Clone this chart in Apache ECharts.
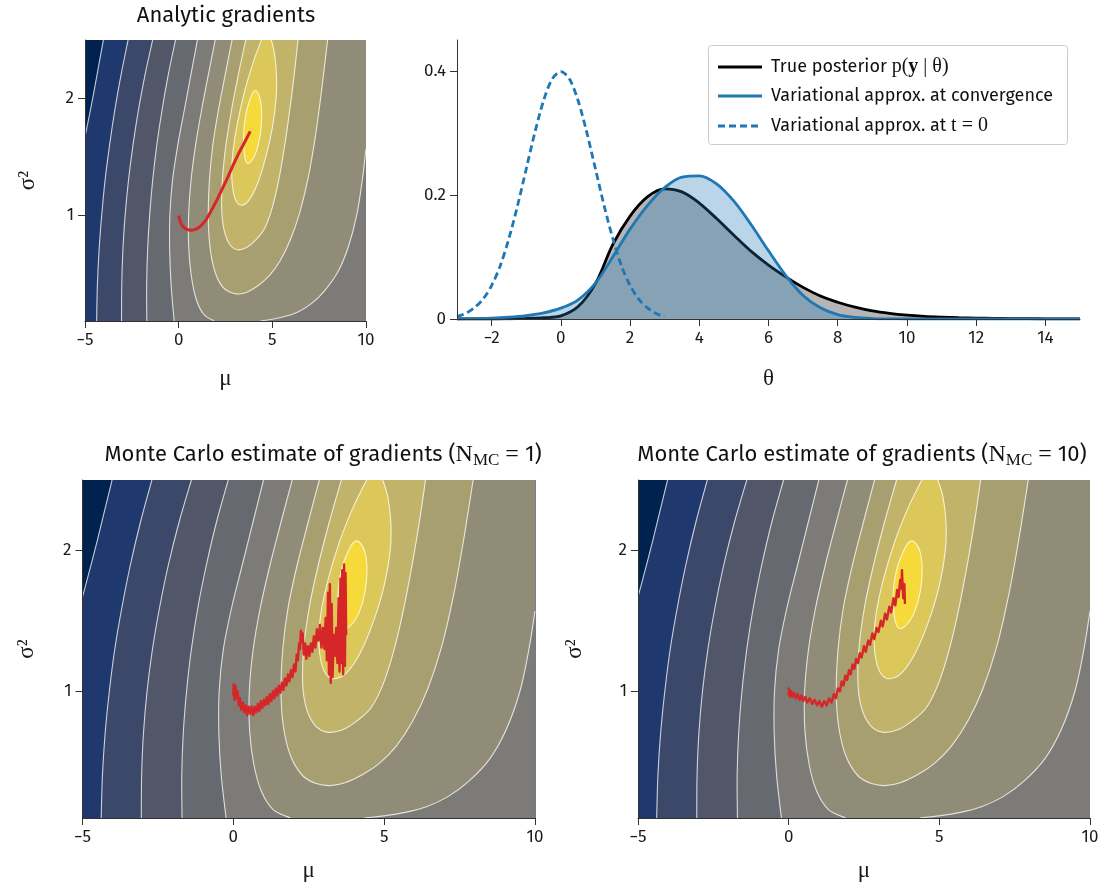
<!DOCTYPE html>
<html><head><meta charset="utf-8">
<script src="https://cdn.jsdelivr.net/npm/echarts@6/dist/echarts.min.js"></script>
<style>html,body{margin:0;padding:0;background:#fff}#c{width:1107px;height:886px}</style>
</head><body><div id="c"></div>
<script>
// ---------------- data ----------------
const muTicks = [-5, 0, 5, 10];
const s2Ticks = [1, 2];
const thetaTicks = [-2, 0, 2, 4, 6, 8, 10, 12, 14];
const densTicks = [0, 0.2, 0.4];

// contour lines of the objective in (mu, sigma^2)
const L1 = [[-4.02,2.5],[-4.27,2.28],[-4.51,2.07],[-4.75,1.87],[-5.0,1.67]];
const L2 = [[-2.70,2.5],[-3.08,2.2],[-3.41,1.9],[-3.69,1.6],[-3.93,1.3],[-4.11,1.0],[-4.25,0.7],[-4.34,0.4],[-4.38,0.1]];
const L3 = [[-1.39,2.5],[-1.80,2.2],[-2.15,1.9],[-2.44,1.6],[-2.68,1.3],[-2.86,1.0],[-2.98,0.7],[-3.04,0.4],[-3.05,0.1]];
const L4 = [[-0.17,2.5],[-0.56,2.2],[-0.89,1.9],[-1.17,1.6],[-1.39,1.3],[-1.55,1.0],[-1.66,0.7],[-1.71,0.4],[-1.70,0.1]];
const L5 = [[1.0,2.5],[0.65,2.2],[0.30,1.9],[-0.05,1.6],[-0.33,1.3],[-0.47,1.0],[-0.48,0.7],[-0.40,0.4],[-0.24,0.1]];
const L6a = [[1.95,2.5],[1.58,2.2],[1.22,1.9],[0.90,1.6],[0.66,1.3],[0.53,1.0],[0.54,0.72],[0.68,0.48],[0.93,0.29],[1.32,0.16],[1.89,0.1]];
const L6b = [[4.35,0.1],[5.0,0.115],[5.7,0.14],[6.4,0.18],[7.1,0.25],[7.8,0.36],[8.5,0.52],[9.05,0.73],[9.5,1.0],[9.8,1.3],[10.0,1.57]];
const L7 = [[2.85,2.5],[2.48,2.2],[2.12,1.9],[1.82,1.6],[1.64,1.3],[1.58,1.0],[1.66,0.75],[1.90,0.54],[2.30,0.40],[2.75,0.345],[3.2,0.33],[3.7,0.35],[4.3,0.41],[4.85,0.49],[5.4,0.61],[5.95,0.79],[6.45,1.02],[6.91,1.32],[7.3,1.68],[7.63,2.07],[7.95,2.5]];
const L8 = [[3.58,2.5],[3.18,2.2],[2.82,1.9],[2.52,1.6],[2.33,1.3],[2.30,1.05],[2.42,0.88],[2.70,0.76],[3.10,0.71],[3.60,0.725],[4.10,0.79],[4.59,0.89],[5.0,1.07],[5.36,1.32],[5.68,1.62],[5.97,1.95],[6.18,2.22],[6.37,2.5]];
const L9 = [[4.42,2.5],[4.0,2.32],[3.55,2.08],[3.15,1.8],[2.90,1.55],[2.83,1.36],[2.92,1.2],[3.12,1.11],[3.40,1.09],[3.75,1.13],[4.20,1.27],[4.65,1.5],[5.0,1.75],[5.20,2.0],[5.22,2.2],[5.12,2.38],[4.95,2.5]];
const L10 = [[4.17,2.06],[4.36,1.99],[4.43,1.86],[4.36,1.70],[4.17,1.56],[3.90,1.47],[3.64,1.45],[3.50,1.54],[3.47,1.70],[3.58,1.86],[3.80,1.99],[4.0,2.06]];

const bandColors = ['#00224e','#1f386d','#3b486a','#525669','#676970','#7c7b78','#918c78','#a89f70','#c2b36a','#dcc75a','#f5da3a'];

// optimisation paths
const pathAnalytic = [[0,1.0],[0.08,0.95],[0.2,0.91],[0.4,0.885],[0.6,0.875],[0.8,0.878],[1.0,0.89],[1.2,0.915],[1.45,0.96],[1.7,1.03],[2.0,1.12],[2.3,1.22],[2.6,1.32],[2.9,1.43],[3.2,1.53],[3.5,1.62],[3.82,1.72]];
const pathMC1 = [[0.00,0.97],[0.01,1.05],[0.04,0.94],[0.07,1.04],[0.10,0.95],[0.14,1.00],[0.18,0.90],[0.22,0.95],[0.26,0.87],[0.31,0.92],[0.36,0.85],[0.41,0.90],[0.46,0.83],[0.51,0.89],[0.56,0.84],[0.61,0.89],[0.66,0.83],[0.71,0.89],[0.76,0.85],[0.81,0.91],[0.86,0.86],[0.91,0.93],[0.96,0.88],[1.01,0.94],[1.06,0.90],[1.11,0.96],[1.16,0.91],[1.21,0.98],[1.26,0.93],[1.31,1.00],[1.36,0.95],[1.41,1.02],[1.46,0.97],[1.51,1.04],[1.56,0.99],[1.61,1.06],[1.66,1.01],[1.71,1.09],[1.76,1.04],[1.81,1.12],[1.86,1.07],[1.91,1.15],[1.96,1.10],[2.01,1.19],[2.06,1.14],[2.10,1.26],[2.14,1.22],[2.18,1.34],[2.21,1.30],[2.24,1.43],[2.27,1.35],[2.30,1.41],[2.34,1.26],[2.38,1.34],[2.42,1.23],[2.47,1.32],[2.52,1.25],[2.57,1.34],[2.62,1.28],[2.67,1.39],[2.72,1.31],[2.77,1.44],[2.82,1.36],[2.87,1.47],[2.92,1.31],[2.97,1.45],[3.02,1.30],[3.06,1.52],[3.10,1.22],[3.14,1.70],[3.17,1.12],[3.20,1.76],[3.23,1.06],[3.26,1.62],[3.29,1.10],[3.33,1.40],[3.37,1.25],[3.41,1.45],[3.45,1.20],[3.49,1.66],[3.52,1.14],[3.55,1.80],[3.58,1.20],[3.61,1.86],[3.64,1.12],[3.67,1.90],[3.70,1.18],[3.72,1.84],[3.74,1.40]];
const pathMC10 = [[0.00,0.97],[0.01,1.02],[0.04,0.96],[0.08,1.00],[0.13,0.96],[0.18,0.99],[0.24,0.95],[0.30,0.98],[0.36,0.94],[0.42,0.97],[0.48,0.93],[0.55,0.96],[0.62,0.92],[0.70,0.95],[0.78,0.91],[0.86,0.94],[0.94,0.90],[1.02,0.93],[1.10,0.89],[1.18,0.93],[1.26,0.90],[1.34,0.95],[1.42,0.92],[1.50,0.98],[1.57,0.95],[1.63,1.02],[1.70,1.00],[1.76,1.07],[1.82,1.04],[1.88,1.11],[1.94,1.08],[2.00,1.15],[2.06,1.12],[2.12,1.19],[2.18,1.16],[2.24,1.23],[2.30,1.20],[2.36,1.27],[2.42,1.24],[2.50,1.32],[2.56,1.28],[2.64,1.36],[2.70,1.33],[2.78,1.41],[2.84,1.37],[2.92,1.45],[2.98,1.42],[3.06,1.50],[3.12,1.46],[3.20,1.55],[3.26,1.51],[3.34,1.60],[3.40,1.56],[3.48,1.66],[3.54,1.61],[3.60,1.72],[3.65,1.67],[3.70,1.79],[3.74,1.73],[3.76,1.86],[3.80,1.66],[3.84,1.76],[3.86,1.62]];

// densities
const densX = [-3,-2.5,-2,-1.5,-1,-0.5,0,0.5,1,1.5,2,2.5,3,3.5,4,4.5,5,5.5,6,6.5,7,7.5,8,8.5,9,9.5,10,10.5,11,11.5,12,12.5,13,13.5,14,14.5,15];
const truePost = [0,0,0,0.0004,0.001,0.002,0.005,0.02,0.057,0.12,0.166,0.197,0.21,0.205,0.187,0.162,0.135,0.109,0.087,0.068,0.051,0.037,0.027,0.019,0.013,0.009,0.0062,0.0043,0.003,0.002,0.0014,0.001,0.0007,0.0005,0.0003,0.0002,0.0001];
const varConv = [0.0004,0.0008,0.0015,0.003,0.0055,0.0098,0.0175,0.031,0.058,0.1,0.145,0.183,0.212,0.229,0.231,0.218,0.19,0.152,0.11,0.07,0.038,0.018,0.007,0.0025,0.0007,0.0002,0,0,0,0,0,0,0,0,0,0,0];
const initX = [-3,-2.75,-2.5,-2.25,-2,-1.75,-1.5,-1.25,-1,-0.75,-0.5,-0.25,0,0.25,0.5,0.75,1,1.25,1.5,1.75,2,2.25,2.5,2.75,3];
const varInit = [0.004,0.009,0.018,0.032,0.054,0.086,0.13,0.183,0.242,0.301,0.352,0.387,0.399,0.387,0.352,0.301,0.242,0.183,0.13,0.086,0.054,0.032,0.018,0.009,0.004];

// ---------------- build ----------------
const SANS = '"Fira Sans","Noto Sans","Open Sans",sans-serif';
const SERIF = '"Liberation Serif","DejaVu Serif",serif';
const MU0 = -5, MU1 = 10, S0 = 0.1, S1 = 2.5;

const regions = [
  {c:0, parts:[{t:'line', pts:[[MU0,S1],[MU1,S1],[MU1,S0],[MU0,S0]]}]},
  {c:1, parts:[{t:'curve', pts:L1},{t:'line', pts:[[MU0,S0],[MU1,S0],[MU1,S1]]}]},
  {c:2, parts:[{t:'curve', pts:L2},{t:'line', pts:[[MU1,S0],[MU1,S1]]}]},
  {c:3, parts:[{t:'curve', pts:L3},{t:'line', pts:[[MU1,S0],[MU1,S1]]}]},
  {c:4, parts:[{t:'curve', pts:L4},{t:'line', pts:[[MU1,S0],[MU1,S1]]}]},
  {c:5, parts:[{t:'curve', pts:L5},{t:'line', pts:[[MU1,S0],[MU1,S1]]}]},
  {c:6, parts:[{t:'curve', pts:L6a},{t:'curve', pts:L6b},{t:'line', pts:[[MU1,S1]]}]},
  {c:7, parts:[{t:'curve', pts:L7}]},
  {c:8, parts:[{t:'curve', pts:L8}]},
  {c:9, parts:[{t:'curve', pts:L9}]},
  {c:10, parts:[{t:'loop', pts:L10}]}
];
const strokes = [
  {t:'curve', pts:L1},{t:'curve', pts:L2},{t:'curve', pts:L3},{t:'curve', pts:L4},{t:'curve', pts:L5},
  {t:'curve', pts:L6a},{t:'curve', pts:L6b},{t:'curve', pts:L7},{t:'curve', pts:L8},{t:'curve', pts:L9},
  {t:'loop', pts:L10}
];

function spline(p, closed) {
  const n = p.length; let d = '';
  const g = i => closed ? p[(i + n) % n] : p[Math.max(0, Math.min(n - 1, i))];
  const segs = closed ? n : n - 1;
  for (let i = 0; i < segs; i++) {
    const a = g(i - 1), b = g(i), c = g(i + 1), e = g(i + 2);
    d += ' C' + (b[0] + (c[0] - a[0]) / 6) + ' ' + (b[1] + (c[1] - a[1]) / 6) + ' ' +
         (c[0] - (e[0] - b[0]) / 6) + ' ' + (c[1] - (e[1] - b[1]) / 6) + ' ' + c[0] + ' ' + c[1];
  }
  return d;
}
function partsPath(parts, api, close) {
  let d = '';
  parts.forEach((part, k) => {
    const px = part.pts.map(q => api.coord(q));
    d += (k === 0 ? 'M' : ' L') + px[0][0] + ' ' + px[0][1];
    if (part.t === 'curve') d += spline(px, false);
    else if (part.t === 'loop') d += spline(px, true);
    else for (let i = 1; i < px.length; i++) d += ' L' + px[i][0] + ' ' + px[i][1];
  });
  return close ? d + ' Z' : d;
}

const GRIDS = [
  {left:85, top:40, width:281, height:281},
  {left:457, top:40, width:623, height:279},
  {left:82.5, top:480, width:452.5, height:338},
  {left:638, top:480, width:452, height:338}
];
const minus = v => String(v).replace('-', '\u2212');
function ax(g, min, max, ticks, name, gap, rot) {
  return {
    gridIndex: g, type:'value', z: 10, min, max,
    axisLine: {show:true, onZero:false, lineStyle:{color:'#333', width:1}},
    splitLine: {show:false},
    axisTick: {show:true, customValues:ticks, length:7, lineStyle:{color:'#333'}},
    axisLabel: {customValues:ticks, formatter:minus, fontSize:17, color:'#1a1a1a', fontFamily:SANS, margin:11},
    name, nameLocation:'middle', nameGap:gap, nameRotate: rot ? 90 : 0,
    nameTextStyle: {fontFamily:SERIF, fontSize:23, color:'#1a1a1a'}
  };
}

function contourSeries(g, path, pathWidth) {
  return [
    {type:'custom', xAxisIndex:g, yAxisIndex:g, clip:true, silent:true, z:1,
     data: regions.map(r => r.parts[0].pts[0]),
     renderItem: (params, api) => {
       const r = regions[params.dataIndex];
       return {type:'path', shape:{pathData: partsPath(r.parts, api, true)},
               style:{fill: bandColors[r.c], stroke: bandColors[r.c], lineWidth: 0.5}};
     }},
    {type:'custom', xAxisIndex:g, yAxisIndex:g, clip:true, silent:true, z:2,
     data: strokes.map(s => s.pts[0]),
     renderItem: (params, api) => {
       const s = strokes[params.dataIndex];
       return {type:'path', shape:{pathData: partsPath([s], api, s.t === 'loop')},
               style:{fill:'none', stroke:'rgba(255,255,255,0.75)', lineWidth:1.1}};
     }},
    {type:'line', xAxisIndex:g, yAxisIndex:g, data:path, symbol:'none', z:3, silent:true,
     lineStyle:{color:'#d62728', width:pathWidth, join:'round'}}
  ];
}

const zipXY = (xs, ys) => xs.map((x, i) => [x, ys[i]]);
const richTitle = {
  t:{fontFamily:SANS, fontSize:22, fill:'#111'},
  n:{fontFamily:SERIF, fontSize:24, fill:'#111'},
  s:{fontFamily:SERIF, fontSize:17, fill:'#111', padding:[12,0,0,0]}
};

const option = {
  animation: false,
  backgroundColor: '#fff',
  grid: GRIDS,
  xAxis: [
    ax(0, MU0, MU1, muTicks, 'μ', 46),
    ax(1, -3, 15, thetaTicks, 'θ', 48),
    ax(2, MU0, MU1, muTicks, 'μ', 41),
    ax(3, MU0, MU1, muTicks, 'μ', 41)
  ],
  yAxis: [
    ax(0, S0, S1, s2Ticks, 'σ²', 46, true),
    ax(1, 0, 0.45, densTicks, '', 10, true),
    ax(2, S0, S1, s2Ticks, 'σ²', 44, true),
    ax(3, S0, S1, s2Ticks, 'σ²', 52, true)
  ],
  series: [
    ...contourSeries(0, pathAnalytic, 3),
    ...contourSeries(2, pathMC1, 2.4),
    ...contourSeries(3, pathMC10, 2.4),
    {name:'True posterior', type:'line', xAxisIndex:1, yAxisIndex:1, data:zipXY(densX, truePost),
     symbol:'none', smooth:0.35, lineStyle:{color:'#000', width:2.8}, areaStyle:{color:'rgba(0,0,0,0.29)', opacity:1}, z:2},
    {name:'Variational approx. at convergence', type:'line', xAxisIndex:1, yAxisIndex:1, data:zipXY(densX, varConv),
     symbol:'none', smooth:0.35, lineStyle:{color:'#1f77b4', width:2.8}, areaStyle:{color:'rgba(31,119,180,0.31)', opacity:1}, z:3},
    {name:'Variational approx. at t = 0', type:'line', xAxisIndex:1, yAxisIndex:1, data:zipXY(initX, varInit),
     symbol:'none', smooth:0.3, lineStyle:{color:'#1f77b4', width:2.8, type:[7,4]}, z:4}
  ],
  graphic: [
    {type:'text', x:226, y:16, style:{text:'Analytic gradients', font:'22px ' + SANS, fill:'#111', align:'center', verticalAlign:'middle'}},
    {type:'text', x:323, y:455, style:{
      text:'{t|Monte Carlo estimate of gradients (}{n|N}{s|MC}{n| = }{t|1)}', align:'center', verticalAlign:'middle', rich:richTitle}},
    {type:'text', x:862, y:455, style:{
      text:'{t|Monte Carlo estimate of gradients (}{n|N}{s|MC}{n| = }{t|10)}', align:'center', verticalAlign:'middle', rich:richTitle}},
    // legend
    {type:'rect', shape:{x:708.5, y:45.5, width:359, height:99, r:3}, style:{fill:'#fff', stroke:'#cccccc', lineWidth:1}, z:50},
    {type:'line', shape:{x1:718, y1:67, x2:762, y2:67}, style:{stroke:'#000', lineWidth:2.8}, z:51},
    {type:'line', shape:{x1:718, y1:96, x2:762, y2:96}, style:{stroke:'#1f77b4', lineWidth:2.8}, z:51},
    {type:'line', shape:{x1:718, y1:126, x2:762, y2:126}, style:{stroke:'#1f77b4', lineWidth:2.8, lineDash:[7,4]}, z:51},
    {type:'text', x:771, y:67, z:51, style:{text:'{a|True posterior }{m|p(}{b|y}{m| | θ)}', verticalAlign:'middle',
      rich:{a:{fontFamily:SANS, fontSize:18, fill:'#111'}, m:{fontFamily:SERIF, fontSize:20, fill:'#111'}, b:{fontFamily:SERIF, fontSize:20, fontWeight:'bold', fill:'#111'}}}},
    {type:'text', x:771, y:96, z:51, style:{text:'Variational approx. at convergence', font:'18px ' + SANS, fill:'#111', verticalAlign:'middle'}},
    {type:'text', x:771, y:126, z:51, style:{text:'{a|Variational approx. at }{m|t = 0}', verticalAlign:'middle',
      rich:{a:{fontFamily:SANS, fontSize:18, fill:'#111'}, m:{fontFamily:SERIF, fontSize:20, fill:'#111'}}}}
  ]
};
const chart = echarts.init(document.getElementById('c'), null, {renderer:'canvas'});
chart.setOption(option);
</script></body></html>
